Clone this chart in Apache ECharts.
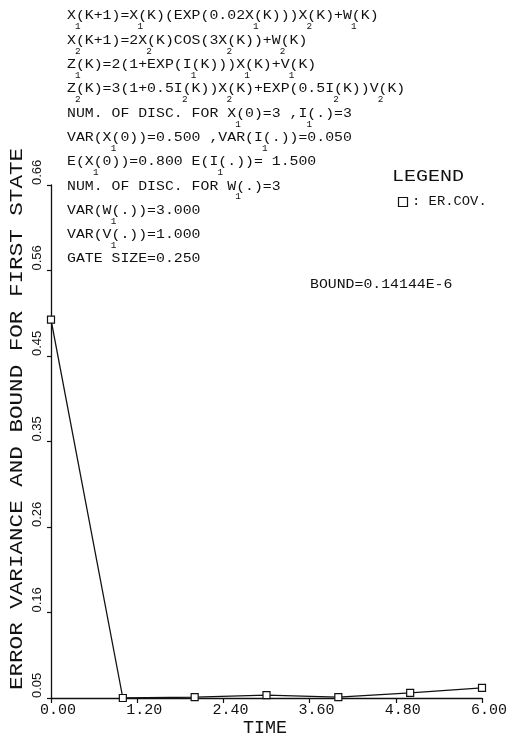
<!DOCTYPE html>
<html>
<head>
<meta charset="utf-8">
<script src="https://cdn.jsdelivr.net/npm/echarts@6/dist/echarts.min.js"></script>
<style>
  html, body { margin: 0; padding: 0; background: #fff; }
  #main { width: 516px; height: 740px; }
</style>
</head>
<body>
<div id="main"></div>
<script>
// Filter run: error covariance of the first state over time
const timeSteps = [0, 1, 2, 3, 4, 5, 6];
const errorCovariance = [0.500, 0.050, 0.051, 0.0535, 0.051, 0.056, 0.062];

// Axis ranges and tick labels
const xRange = [0, 6];
const xStep = 1.2;
const yRange = [0.05, 0.66];
const yTickLabels = ['0.05', '0.16', '0.26', '0.35', '0.45', '0.56', '0.66'];

// Model description printed above the plot ("_n" marks a subscript digit)
const modelLines = [
  'X_1(K+1)=X_1(K)(EXP(0.02X_1(K)))X_2(K)+W_1(K)',
  'X_2(K+1)=2X_2(K)COS(3X_2(K))+W_2(K)',
  'Z_1(K)=2(1+EXP(I_1(K)))X_1(K)+V_1(K)',
  'Z_2(K)=3(1+0.5I_2(K))X_2(K)+EXP(0.5I_2(K))V_2(K)',
  'NUM. OF DISC. FOR X_1(0)=3 ,I_1(.)=3',
  'VAR(X_1(0))=0.500 ,VAR(I_1(.))=0.050',
  'E(X_1(0))=0.800 E(I_1(.))= 1.500',
  'NUM. OF DISC. FOR W_1(.)=3',
  'VAR(W_1(.))=3.000',
  'VAR(V_1(.))=1.000',
  'GATE SIZE=0.250'
];
const legendTitle = 'LEGEND';
const legendEntry = ': ER.COV.';
const boundText = 'BOUND=0.14144E-6';
const yAxisTitle = 'ERROR VARIANCE AND BOUND FOR FIRST STATE';
const xAxisTitle = 'TIME';

const INK = '#111';
const MONO = '"Liberation Mono", "DejaVu Sans Mono", monospace';

// Plotter-style text: fixed pitch obtained by stretching a monospace face
function plotText(text, x, y, size, pitch, opt) {
  opt = opt || {};
  const align = opt.align || 'left';
  return {
    type: 'text',
    x: x, y: y,
    rotation: opt.rotation || 0,
    scaleX: pitch / (0.6 * size),
    z: 10,
    style: {
      text: text,
      font: size + 'px ' + MONO,
      fill: INK,
      align: align, textAlign: align,
      verticalAlign: 'middle', textVerticalAlign: 'middle'
    }
  };
}

function splitSubscripts(line) {
  let main = '';
  const subs = [];
  for (let i = 0; i < line.length; i++) {
    if (line[i] === '_') { subs.push({ col: main.length, ch: line[i + 1] }); i++; }
    else main += line[i];
  }
  return { main, subs };
}

const blockX = 67, blockY = 16, lineGap = 24.3, pitch = 8.9;
const graphics = [];
modelLines.forEach(function (raw, i) {
  const parts = splitSubscripts(raw);
  const y = blockY + i * lineGap;
  graphics.push(plotText(parts.main, blockX, y, 13, pitch));
  parts.subs.forEach(function (s) {
    graphics.push(plotText(s.ch, blockX + pitch * s.col + 2, y + 11, 9, 5.6, { align: 'center' }));
  });
});

graphics.push(plotText(legendTitle, 392, 177, 16, 12));
graphics.push({
  type: 'rect', z: 10,
  shape: { x: 398.5, y: 197.5, width: 9, height: 9 },
  style: { fill: 'none', stroke: INK, lineWidth: 1.2 }
});
graphics.push(plotText(legendEntry, 412, 202, 12, 8.3));
graphics.push(plotText(boundText, 310, 285, 12.5, 8.9));
graphics.push(plotText(yAxisTitle, 17, 419, 18, 13.55, { align: 'center', rotation: Math.PI / 2 }));
graphics.push(plotText(xAxisTitle, 265, 728, 18, 11, { align: 'center' }));

const yStep = (yRange[1] - yRange[0]) / (yTickLabels.length - 1);
const yTickValues = yTickLabels.map(function (_, i) { return yRange[0] + i * yStep; });

const chart = echarts.init(document.getElementById('main'), null, { renderer: 'canvas' });
chart.setOption({
  backgroundColor: '#fff',
  animation: false,
  grid: { left: 51, right: 34, top: 185, bottom: 42, containLabel: false },
  xAxis: {
    type: 'value',
    min: xRange[0], max: xRange[1], interval: xStep,
    axisLine: { show: true, lineStyle: { color: INK, width: 1.3 } },
    axisTick: { show: true, inside: false, length: 5, lineStyle: { color: INK, width: 1.2 } },
    axisLabel: {
      color: INK, fontFamily: MONO, fontSize: 15, margin: 5,
      padding: [0, 0, 0, 14],
      formatter: function (v) { return v.toFixed(2); }
    },
    splitLine: { show: false }
  },
  yAxis: {
    type: 'value',
    min: yRange[0], max: yRange[1],
    axisLine: { show: true, lineStyle: { color: INK, width: 1.3 } },
    axisTick: { show: true, inside: false, length: 4, customValues: yTickValues, lineStyle: { color: INK, width: 1.2 } },
    axisLabel: {
      customValues: yTickValues,
      rotate: 90, align: 'left', verticalAlign: 'bottom', margin: 7,
      color: INK, fontFamily: '"Liberation Sans", Arial, sans-serif', fontSize: 13,
      formatter: function (v) { return yTickLabels[Math.round((v - yRange[0]) / yStep)]; }
    },
    splitLine: { show: false }
  },
  series: [{
    type: 'line',
    data: timeSteps.map(function (t, i) { return [t, errorCovariance[i]]; }),
    symbol: 'rect', symbolSize: 7, showSymbol: true,
    clip: false,
    lineStyle: { color: INK, width: 1.3 },
    itemStyle: { color: '#fff', borderColor: INK, borderWidth: 1.2 },
    z: 3
  }],
  graphic: graphics
});
</script>
</body>
</html>
